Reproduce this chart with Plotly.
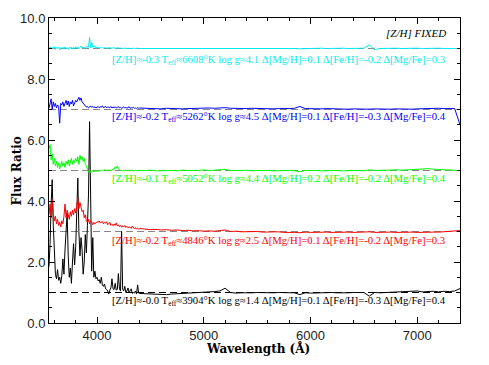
import numpy as np
import plotly.graph_objects as go

# %% wavelength sampling (fine in the blue, coarser in the red)
wave = np.concatenate([np.arange(3550, 4401, 10), np.arange(4450, 7401, 50)])

# %% flux ratios (each spectrum is shifted by its offset)
black_ratio = [
    1.85, 2.6, 3.9, 4.7, 3.2, 2.2, 1.6, 1.45, 1.75, 1.4,
    1.5, 1.3, 1.55, 2.1, 1.6, 2.4, 3.0, 3.6, 2.2, 1.5,
    1.8, 1.3, 2.0, 2.6, 1.9, 2.5, 3.6, 4.75, 3.0, 2.2,
    2.8, 2.4, 1.6, 2.0, 2.9, 2.3, 3.2, 4.2, 6.6, 3.0,
    1.7, 2.8, 1.5, 1.7, 1.45, 1.5, 1.38, 1.42, 1.3, 1.5,
    1.25, 1.2, 1.28, 1.12, 1.1, 1.05, 0.95, 1.08, 1.15, 1.45,
    1.12, 1.1, 1.3, 1.08, 1.1, 1.62, 1.12, 1.05, 3.0, 1.1,
    1.05, 1.2, 1.0, 1.05, 1.15, 1.0, 1.08, 1.12, 0.97, 1.0,
    0.98, 1.05, 0.95, 1.25, 0.98, 0.97,
    0.96, 0.95, 0.94, 0.95, 0.93, 0.95, 0.96, 0.97, 0.96, 0.97,
    0.99, 1.0, 1.02, 1.03, 1.05, 1.14, 1.0, 0.98, 0.99, 0.98,
    0.99, 1.0, 0.99, 0.98, 0.99, 1.0, 0.99, 0.98, 0.99, 0.93,
    0.99, 0.98, 0.99, 1.0, 0.99, 1.0, 0.99, 0.98, 0.99, 1.0,
    0.99, 1.0, 0.88, 1.0, 0.99, 1.0, 1.01, 1.03, 1.04, 1.05,
    1.04, 1.05, 1.02, 1.03, 1.04, 1.02, 1.04, 1.03, 1.05, 1.13]

red_ratio = [
    1.55, 1.9, 1.45, 2.05, 1.6, 1.35, 1.5, 1.25, 1.4, 1.2,
    1.3, 1.15, 1.35, 1.25, 1.5, 1.9, 1.45, 1.7, 1.55, 1.4,
    1.65, 1.5, 1.7, 1.55, 1.75, 1.6, 1.85, 2.1, 1.75, 1.95,
    1.8, 1.65, 1.7, 1.45, 1.55, 1.35, 1.3, 1.4, 1.25, 1.35,
    1.3, 1.22, 1.3, 1.25, 1.28, 1.32, 1.3, 1.35, 1.28, 1.3,
    1.33, 1.25, 1.3, 1.27, 1.32, 1.22, 1.26, 1.3, 1.2, 1.24,
    1.19, 1.25, 1.2, 1.28, 1.18, 1.22, 1.16, 1.2, 1.14, 1.18,
    1.15, 1.2, 1.13, 1.17, 1.12, 1.15, 1.14, 1.1, 1.18, 1.12,
    1.09, 1.13, 1.08, 1.11, 1.07, 1.1,
    1.07, 1.06, 1.07, 1.05, 1.06, 1.04, 1.05, 1.03, 1.04, 1.02,
    1.03, 1.01, 1.02, 1.01, 1.03, 1.05, 1.0, 1.01, 0.99, 1.0,
    0.99, 1.0, 0.98, 0.99, 0.98, 0.99, 0.97, 0.98, 0.97, 0.96,
    0.98, 0.97, 0.98, 0.97, 0.98, 0.97, 0.98, 0.97, 0.98, 0.97,
    0.98, 0.97, 0.99, 0.97, 0.98, 0.97, 0.98, 0.97, 0.98, 0.97,
    0.98, 0.97, 0.98, 0.97, 0.98, 0.98, 0.99, 0.99, 1.0, 1.03]

green_ratio = [
    1.7, 1.85, 1.35, 1.55, 1.2, 1.4, 1.15, 1.3, 1.1, 1.25,
    1.05, 1.2, 1.3, 1.15, 1.25, 1.1, 1.3, 1.2, 1.35, 1.15,
    1.3, 1.4, 1.2, 1.35, 1.25, 1.4, 1.3, 1.45, 1.2, 1.5,
    1.35, 1.45, 1.3, 1.4, 1.2, 1.15, 1.05, 0.95, 1.02, 0.93,
    0.98, 1.0, 0.95, 1.0, 0.97, 1.0, 0.96, 1.01, 0.98, 1.02,
    0.99, 1.0, 1.03, 0.98, 1.01, 1.0, 1.02, 0.99, 1.01, 1.0,
    1.06, 1.04, 1.12, 1.08, 1.15, 1.05, 1.02, 1.0, 1.01, 0.99,
    1.01, 1.0, 1.02, 0.99, 1.0, 1.01, 0.99, 1.0, 1.01, 0.98,
    1.0, 1.01, 0.99, 1.0, 1.01, 1.0,
    1.0, 1.01, 0.99, 1.0, 1.01, 1.0, 0.99, 1.01, 1.0, 0.99,
    1.0, 1.02, 1.0, 1.01, 1.02, 1.04, 1.0, 0.99, 1.0, 1.01,
    0.99, 1.0, 1.01, 1.0, 0.99, 1.0, 1.01, 1.0, 0.99, 0.96,
    1.0, 1.01, 1.0, 0.99, 1.0, 1.01, 1.0, 0.99, 1.0, 1.01,
    1.0, 0.99, 1.02, 1.0, 1.01, 1.0, 1.01, 1.02, 1.01, 1.02,
    1.03, 1.04, 1.05, 1.06, 1.04, 1.03, 1.02, 1.03, 1.01, 1.0]

blue_ratio = [
    1.05, 1.2, 1.35, 1.0, 1.25, 1.1, 1.2, 1.05, 1.15, 1.1,
    0.55, 1.2, 1.15, 1.25, 1.1, 1.2, 1.3, 1.15, 1.28, 1.1,
    1.25, 1.18, 1.3, 1.12, 1.2, 1.3, 1.25, 1.35, 1.4, 1.3,
    1.38, 1.25, 1.2, 1.15, 1.1, 1.08, 1.1, 1.05, 1.08, 1.12,
    1.07, 1.1, 1.06, 1.09, 1.05, 1.08, 1.1, 1.06, 1.09, 1.07,
    1.12, 1.06, 1.08, 1.1, 1.05, 1.09, 1.07, 1.06, 1.1, 1.05,
    1.08, 1.06, 1.09, 1.05, 1.07, 1.1, 1.05, 1.07, 1.04, 1.06,
    1.08, 1.05, 1.07, 1.04, 1.06, 1.09, 1.04, 1.06, 1.05, 1.07,
    1.04, 1.05, 1.03, 1.06, 1.04, 1.05,
    1.04, 1.03, 1.03, 1.02, 1.04, 1.03, 1.04, 1.02, 1.03, 1.04,
    1.03, 1.04, 1.05, 1.04, 1.05, 1.06, 1.04, 1.03, 1.04, 1.03,
    1.04, 1.03, 1.02, 1.03, 1.02, 1.03, 1.02, 1.03, 1.04, 1.1,
    1.03, 1.02, 1.03, 1.02, 1.03, 1.02, 1.01, 1.02, 1.01, 1.02,
    1.01, 1.02, 1.01, 1.02, 1.01, 1.02, 1.01, 1.02, 1.01, 1.02,
    1.01, 1.02, 1.03, 1.02, 1.03, 1.04, 1.03, 1.02, 1.03, 0.5]

cyan_ratio = [
    1.02, 1.05, 0.98, 1.04, 1.0, 1.06, 0.97, 1.03, 1.0, 1.05,
    0.96, 1.03, 1.0, 1.04, 0.98, 1.05, 1.0, 1.03, 0.97, 1.04,
    1.01, 1.05, 0.98, 1.04, 1.0, 1.06, 1.02, 1.05, 0.99, 1.04,
    1.08, 1.02, 1.05, 1.0, 1.06, 1.03, 1.07, 1.05, 1.36, 1.02,
    1.2, 1.04, 1.1, 1.03, 1.05, 1.02, 1.04, 1.01, 1.03, 1.02,
    1.04, 1.01, 1.02, 1.03, 1.01, 1.02, 1.01, 1.03, 1.01, 1.02,
    1.01, 1.02, 1.01, 1.02, 1.01, 1.02, 1.01, 1.02, 1.01, 1.0,
    1.01, 1.02, 1.01, 1.0, 1.01, 1.01, 1.0, 1.01, 1.0, 1.01,
    1.0, 1.01, 1.0, 1.01, 1.0, 1.0,
    1.01, 1.0, 1.01, 1.0, 1.01, 1.0, 1.01, 1.0, 1.01, 1.0,
    1.01, 1.0, 1.01, 1.0, 1.01, 1.02, 1.0, 1.01, 1.0, 1.01,
    1.0, 1.01, 1.0, 1.01, 1.0, 1.01, 1.0, 1.01, 1.0, 0.99,
    1.0, 1.01, 1.0, 1.01, 1.0, 1.01, 1.0, 1.01, 1.0, 1.01,
    1.0, 1.01, 1.12, 0.96, 1.0, 1.01, 1.0, 1.01, 1.0, 1.01,
    1.0, 1.01, 1.0, 1.01, 1.0, 1.01, 1.0, 1.01, 1.0, 1.0]

offsets = [0, 2, 4, 6, 8]
colors = ['black', '#ff0000', '#00ff00', '#0000ff', '#00eeee']
dash_colors = ['black', '#888888', '#888888', '#888888', '#888888']
spectra = [black_ratio, red_ratio, green_ratio, blue_ratio, cyan_ratio]

labels = [
    '[Z/H]≈-0.0 T<sub>eff</sub>≈3904°K log g≈1.4 Δ[Mg/H]=0.1 Δ[Fe/H]=-0.3 Δ[Mg/Fe]=0.4',
    '[Z/H]≈-0.2 T<sub>eff</sub>≈4846°K log g≈2.5 Δ[Mg/H]=0.1 Δ[Fe/H]=-0.2 Δ[Mg/Fe]=0.3',
    '[Z/H]≈-0.1 T<sub>eff</sub>≈5052°K log g≈4.4 Δ[Mg/H]=0.2 Δ[Fe/H]=-0.2 Δ[Mg/Fe]=0.4',
    '[Z/H]≈-0.2 T<sub>eff</sub>≈5262°K log g≈4.5 Δ[Mg/H]=0.1 Δ[Fe/H]=-0.3 Δ[Mg/Fe]=0.4',
    '[Z/H]≈-0.3 T<sub>eff</sub>≈6608°K log g≈4.1 Δ[Mg/H]=0.1 Δ[Fe/H]=-0.2 Δ[Mg/Fe]=0.3',
]
label_y = [0.72, 2.70, 4.73, 6.75, 8.63]

# %% figure
fig = go.Figure()

for off, dc in zip(offsets, dash_colors):
    fig.add_hline(y=off + 1, line=dict(color=dc, width=1, dash='7px,4px'),
                  layer='below')

for ratio, off, col in zip(spectra, offsets, colors):
    fig.add_trace(go.Scatter(x=wave, y=np.array(ratio) + off, mode='lines',
                             line=dict(color=col, width=1), showlegend=False))

for txt, ly, col in zip(labels, label_y, colors):
    fig.add_annotation(x=4120, y=ly, text=txt, showarrow=False,
                       xanchor='left', yanchor='middle',
                       font=dict(family='Liberation Serif', size=10.7, color=col))

fig.add_annotation(x=7290, y=9.5, text='<i>[Z/H] FIXED</i>', showarrow=False,
                   xanchor='right', yanchor='middle',
                   font=dict(family='Liberation Serif', size=11, color='black'))

# axis titles placed by hand so they sit where the reference has them
fig.add_annotation(x=0.508, y=-0.082, xref='paper', yref='paper',
                   text='<b>Wavelength (Å)</b>', showarrow=False,
                   xanchor='center', yanchor='middle',
                   font=dict(family='DejaVu Serif', size=12, color='black'))
fig.add_annotation(x=-0.0998, y=0.5, xref='paper', yref='paper',
                   text='<b>Flux Ratio</b>', showarrow=False, textangle=-90,
                   xanchor='left', yanchor='middle',
                   font=dict(family='DejaVu Serif', size=12, color='black'))

axis_common = dict(showline=True, linecolor='black', linewidth=1, mirror='allticks',
                   ticks='inside', ticklen=6, tickcolor='black', showgrid=False,
                   zeroline=False, automargin=False,
                   tickfont=dict(family='Liberation Sans', size=13, color='#222'))

fig.update_xaxes(range=[3550, 7400], dtick=1000, tick0=0, tickformat='d',
                 minor=dict(dtick=200, tick0=0, ticks='inside', ticklen=3,
                            tickcolor='black'),
                 **axis_common)
fig.update_yaxes(range=[0, 10], dtick=2, tick0=0, tickformat='.1f',
                 minor=dict(dtick=0.5, tick0=0, ticks='inside', ticklen=3,
                            tickcolor='black'),
                 **axis_common)

# the page puts the figure 8px in from the top-left corner
fig.update_layout(width=481, height=357, plot_bgcolor='white', paper_bgcolor='white',
                  margin=dict(l=41, r=29, t=10, b=42))

fig.write_html('out.html')
